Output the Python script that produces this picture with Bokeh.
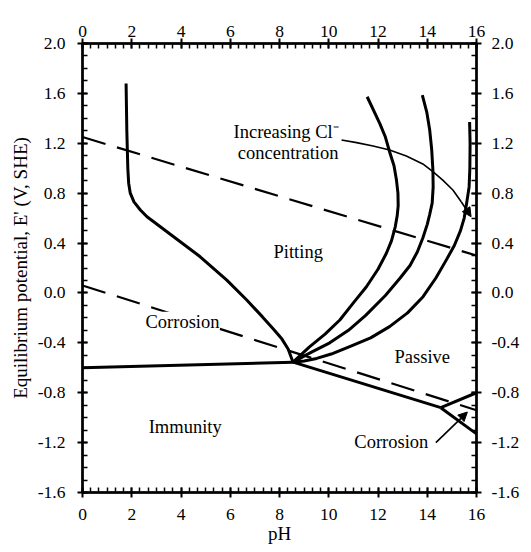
import numpy as np
from bokeh.plotting import figure
from bokeh.models import (LinearAxis, Range1d, Arrow, NormalHead, Label,
                          FixedTicker, Title)
from bokeh.embed import file_html
from bokeh.resources import INLINE
from bokeh.core.properties import value

FONT = "Liberation Serif"

# ---- axis ticks -------------------------------------------------------------
ph_ticks = [0, 2, 4, 6, 8, 10, 12, 14, 16]
ph_tick_labels = ["0", "2", "4", "6", "8", "10", "12", "14", "16"]
e_ticks = [-1.6, -1.2, -0.8, -0.4, 0.0, 0.4, 0.8, 1.2, 1.6, 2.0]
e_tick_labels = ["-1.6", "-1.2", "-0.8", "-0.4", "0.0", "0.4", "0.8", "1.2", "1.6", "2.0"]

x_title = "pH"
y_title = "Equilibrium potential, E' (V, SHE)"

# ---- phase boundaries (pH, E) ------------------------------------------------
immunity_ph = [0.0, 8.55]
immunity_e = [-0.60, -0.555]

passive_ph = [8.55, 14.55]
passive_e = [-0.555, -0.92]

corr_upper_ph = [14.55, 16.0]
corr_upper_e = [-0.92, -0.80]
corr_lower_ph = [14.55, 16.0]
corr_lower_e = [-0.92, -1.13]

# water stability lines
o2_ph = [0.0, 16.0]
o2_e = [1.25, 0.30]
h2_ph = [0.0, 16.0]
h2_e = [0.06, -0.94]

# pitting / corrosion boundary
pit_ph = [1.77, 1.80, 1.84, 1.875, 1.94, 2.09, 2.35, 2.62, 3.70, 4.78,
          5.86, 6.67, 7.30, 7.75, 8.10, 8.35, 8.55]
pit_e = [1.68, 1.30, 1.00, 0.88, 0.80, 0.73, 0.665, 0.611, 0.451, 0.29,
         0.103, -0.057, -0.19, -0.29, -0.37, -0.45, -0.555]

# pitting potential curves for three chloride levels
cl1_ph = [11.56, 12.07, 12.30, 12.47, 12.65, 12.75, 12.81, 12.82, 12.78, 12.70,
          12.55, 12.34, 12.00, 11.53, 11.00, 10.45, 9.85, 9.23, 8.90, 8.55]
cl1_e = [1.573, 1.36, 1.25, 1.132, 1.02, 0.905, 0.80, 0.70, 0.62, 0.53,
         0.42, 0.318, 0.19, 0.05, -0.08, -0.217, -0.33, -0.43, -0.49, -0.555]

cl2_ph = [13.80, 13.98, 14.10, 14.18, 14.23, 14.24, 14.20, 14.10, 14.00, 13.82,
          13.60, 13.30, 12.90, 12.30, 11.50, 10.80, 10.04, 9.30, 8.55]
cl2_e = [1.587, 1.45, 1.306, 1.15, 0.986, 0.85, 0.72, 0.63, 0.55, 0.44,
         0.33, 0.22, 0.12, -0.02, -0.18, -0.30, -0.40, -0.475, -0.555]

cl3_ph = [15.72, 15.74, 15.73, 15.70, 15.60, 15.50, 15.35, 15.10, 14.77, 14.35,
          13.83, 13.20, 12.47, 11.70, 10.85, 10.10, 9.51, 9.00, 8.55]
cl3_e = [1.37, 1.20, 1.00, 0.85, 0.72, 0.60, 0.50, 0.38, 0.263, 0.12,
         -0.03, -0.16, -0.27, -0.36, -0.43, -0.49, -0.525, -0.545, -0.555]

# curved pointer from the chloride note
note_arrow_ph = [10.52, 11.13, 11.80, 12.47, 13.15, 13.82, 14.23, 14.63, 15.04, 15.38]
note_arrow_e = [1.226, 1.205, 1.178, 1.146, 1.098, 1.034, 0.972, 0.905, 0.825, 0.731]
note_arrow_tip = (15.78, 0.611)

# straight pointer for the alkaline corrosion wedge
wedge_arrow_start = (14.35, -1.20)
wedge_arrow_tip = (15.63, -0.955)

# region labels
region_text = ["Pitting", "Passive", "Immunity", "Corrosion"]
region_ph = [8.76, 13.80, 4.17, 12.54]
region_e = [0.33, -0.512, -1.073, -1.193]

note_text = ["Increasing Cl\u207b", "concentration"]
note_ph = [8.27, 8.35]
note_e = [1.293, 1.12]

acid_corr_text = "Corrosion"
acid_corr_pos = (4.06, -0.231)

# ---- figure ------------------------------------------------------------------
p = figure(width=531, height=552,
           x_range=Range1d(0, 16), y_range=Range1d(-1.6, 2.0),
           output_backend="svg", toolbar_location=None,
           min_border_left=82, min_border_right=55,
           min_border_top=43, min_border_bottom=60,
           x_axis_label=x_title)
p.grid.visible = False
p.outline_line_color = "black"
p.outline_line_width = 2
p.background_fill_color = "white"
p.border_fill_color = "white"

p.add_layout(LinearAxis(), "above")
p.add_layout(LinearAxis(), "right")

x_minor = list(np.linspace(0, 16, 49))
y_minor = list(np.round(np.arange(-1.6, 2.0001, 0.1), 2))

for ax in p.xaxis:
    ax.ticker = FixedTicker(ticks=ph_ticks, minor_ticks=x_minor)
    ax.major_label_overrides = dict(zip(ph_ticks, ph_tick_labels))
for ax in p.yaxis:
    ax.ticker = FixedTicker(ticks=e_ticks, minor_ticks=y_minor)
    ax.major_label_overrides = dict(zip(e_ticks, e_tick_labels))

for ax in p.axis:
    ax.axis_line_width = 2.5
    ax.axis_line_color = "black"
    ax.major_tick_line_width = 2
    ax.major_tick_line_color = "black"
    ax.minor_tick_line_width = 1.5
    ax.minor_tick_line_color = "black"
    ax.major_tick_in = 5
    ax.major_tick_out = 5
    ax.minor_tick_in = 5
    ax.minor_tick_out = 0
    ax.major_label_text_font = FONT
    ax.major_label_text_font_size = "17.5px"
    ax.major_label_text_color = "black"
    ax.axis_label_text_font = FONT
    ax.axis_label_text_font_size = "19px"
    ax.axis_label_text_font_style = "normal"
    ax.axis_label_text_color = "black"

p.below[0].major_label_standoff = 11
p.below[0].axis_label_standoff = 0
p.left[0].major_label_standoff = 12
p.above[0].major_label_standoff = 2
p.right[0].major_label_standoff = 10

# vertical title on the left, nudged down along the panel
p.add_layout(Title(text=y_title, align="center", offset=12, standoff=8,
                   text_font=FONT, text_font_size="19px",
                   text_font_style="normal", text_color="black"), "left")

# ---- lines -------------------------------------------------------------------
dash = dict(line_color="black", line_width=2.2, line_dash="24 12")
p.line(o2_ph, o2_e, **dash)
p.line(h2_ph, h2_e, **dash)

solid = dict(line_color="black", line_width=3, line_join="round")
p.line(immunity_ph, immunity_e, **solid)
p.line(passive_ph, passive_e, **solid)
p.line(corr_upper_ph, corr_upper_e, **solid)
p.line(corr_lower_ph, corr_lower_e, **solid)
p.line(pit_ph, pit_e, **solid)
p.line(cl1_ph, cl1_e, **solid)
p.line(cl2_ph, cl2_e, **solid)
p.line(cl3_ph, cl3_e, **solid)

# pointers
p.line(note_arrow_ph, note_arrow_e, line_color="black", line_width=1.6,
       line_join="round")
p.add_layout(Arrow(end=NormalHead(size=9, fill_color="black", line_color="black"),
                   x_start=note_arrow_ph[-1], y_start=note_arrow_e[-1],
                   x_end=note_arrow_tip[0], y_end=note_arrow_tip[1],
                   line_color="black", line_width=1.6))
p.add_layout(Arrow(end=NormalHead(size=9, fill_color="black", line_color="black"),
                   x_start=wedge_arrow_start[0], y_start=wedge_arrow_start[1],
                   x_end=wedge_arrow_tip[0], y_end=wedge_arrow_tip[1],
                   line_color="black", line_width=1.6))

# ---- text --------------------------------------------------------------------
txt = dict(text_font=value(FONT), text_font_size=value("18.5px"),
           text_align="center", text_baseline="middle", text_color="black")
p.text(x=region_ph, y=region_e, text=region_text, **txt)
p.text(x=note_ph, y=note_e, text=note_text, **txt)

p.add_layout(Label(x=acid_corr_pos[0], y=acid_corr_pos[1], text=acid_corr_text,
                   text_font=FONT, text_font_size="18.5px", text_color="black",
                   text_align="center", text_baseline="middle",
                   background_fill_color="white"))

open("out.html", "w").write(file_html(p, INLINE))
